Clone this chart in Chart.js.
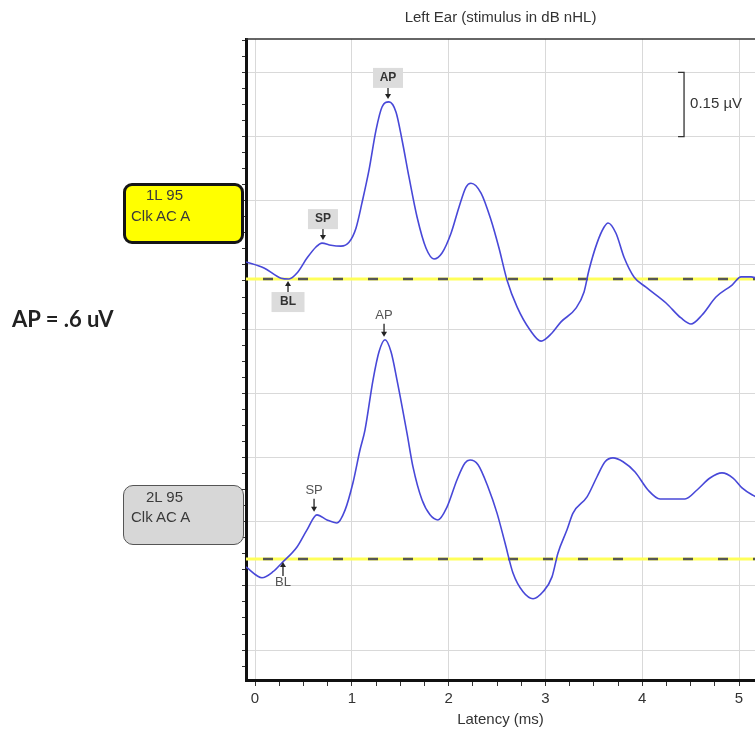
<!DOCTYPE html>
<html>
<head>
<meta charset="utf-8">
<script src="https://cdn.jsdelivr.net/npm/chart.js@4.4.1/dist/chart.umd.min.js"></script>
<style>
html,body{margin:0;padding:0;background:#fff;overflow:hidden;}
#wrap{position:relative;width:755px;height:733px;}
#c{position:absolute;left:0;top:0;}
.box{position:absolute;box-sizing:border-box;}
.lbl{position:absolute;font-family:"Liberation Sans",Arial,sans-serif;font-size:15px;line-height:20px;color:#3a3a3a;white-space:nowrap;}
#ap{position:absolute;left:12px;top:306px;font-family:Lato,"Open Sans",sans-serif;font-weight:700;font-size:22px;line-height:26px;color:#222;white-space:nowrap;}
</style>
</head>
<body>
<div id="wrap">
<canvas id="c" width="755" height="733"></canvas>
<div class="box" style="left:123px;top:183px;width:121px;height:61px;background:#ffff00;border:3px solid #151515;border-radius:9px;"></div>
<div class="lbl" style="left:146px;top:185px;">1L 95</div>
<div class="lbl" style="left:131px;top:206px;">Clk AC A</div>
<div class="box" style="left:123px;top:485px;width:121px;height:60px;background:#d7d7d7;border:1.5px solid #555;border-radius:10px;"></div>
<div class="lbl" style="left:146px;top:487px;">2L 95</div>
<div class="lbl" style="left:131px;top:507px;">Clk AC A</div>
<div id="ap">AP = .6 uV</div>
</div>
<script>
// ---- data (latency in ms, amplitude in µV relative to each trace's baseline) ----
const chartTitle = 'Left Ear (stimulus in dB nHL)';
const xAxisTitle = 'Latency (ms)';
const xTickLabels = ['0', '1', '2', '3', '4', '5'];
const scaleBarLabel = '0.15 µV';
const scaleBarUv = 0.15;

const latencyUpper = [-0.093, 0.093, 0.269, 0.351, 0.434, 0.537, 0.630, 0.692, 0.785, 0.888, 0.971, 1.043, 1.105, 1.178, 1.250, 1.312, 1.384, 1.457, 1.519, 1.591, 1.674, 1.767, 1.849, 1.932, 2.025, 2.107, 2.180, 2.231, 2.335, 2.438, 2.521, 2.603, 2.707, 2.841, 2.955, 3.068, 3.161, 3.316, 3.399, 3.450, 3.533, 3.605, 3.647, 3.729, 3.812, 3.915, 4.039, 4.246, 4.401, 4.504, 4.618, 4.762, 4.928, 5.021, 5.124, 5.217];
const ampUpper = [0.040, 0.026, 0.002, 0.000, 0.014, 0.049, 0.075, 0.084, 0.079, 0.077, 0.086, 0.119, 0.178, 0.255, 0.348, 0.402, 0.414, 0.390, 0.325, 0.238, 0.145, 0.072, 0.047, 0.061, 0.107, 0.168, 0.215, 0.224, 0.201, 0.138, 0.072, -0.002, -0.065, -0.119, -0.145, -0.126, -0.100, -0.068, -0.030, 0.021, 0.084, 0.121, 0.131, 0.107, 0.051, 0.005, -0.019, -0.056, -0.091, -0.105, -0.084, -0.042, -0.014, 0.005, 0.005, 0.000];

const latencyLower = [-0.093, 0.072, 0.186, 0.279, 0.434, 0.537, 0.640, 0.744, 0.847, 0.930, 1.012, 1.085, 1.136, 1.219, 1.281, 1.343, 1.405, 1.467, 1.570, 1.632, 1.725, 1.808, 1.890, 1.983, 2.087, 2.169, 2.221, 2.304, 2.407, 2.500, 2.583, 2.665, 2.769, 2.872, 2.975, 3.068, 3.130, 3.223, 3.285, 3.430, 3.533, 3.616, 3.698, 3.802, 3.926, 4.060, 4.184, 4.442, 4.566, 4.700, 4.824, 4.938, 5.031, 5.134, 5.372];
const ampLower = [-0.019, -0.044, -0.030, -0.009, 0.028, 0.068, 0.103, 0.091, 0.084, 0.114, 0.178, 0.255, 0.301, 0.418, 0.484, 0.512, 0.484, 0.418, 0.294, 0.215, 0.138, 0.103, 0.091, 0.121, 0.185, 0.224, 0.231, 0.220, 0.168, 0.107, 0.037, -0.033, -0.077, -0.093, -0.077, -0.042, 0.014, 0.068, 0.107, 0.145, 0.192, 0.227, 0.236, 0.227, 0.203, 0.161, 0.140, 0.140, 0.161, 0.189, 0.201, 0.189, 0.166, 0.150, 0.126];

const markerNames = ['AP', 'SP', 'BL'];
const markerMsUpper = [1.374, 0.702, 0.341];
const markerUvUpper = [0.414, 0.084, 0.000];
const markerMsLower = [1.333, 0.610, 0.289];
const markerUvLower = [0.512, 0.103, 0.000];

// display offsets of the two stacked traces on the µV axis
const UPPER_BASELINE = 0.867;
const LOWER_BASELINE = 0.213;
const X_MIN = -0.093, X_MAX = 5.165;
const Y_MIN = -0.07, Y_MAX = 1.428;
const SCALE_BAR_MS = 4.432, SCALE_BAR_TOP = 1.35;

const xTicks = []; for (let k = 0; k <= 20; k++) xTicks.push(k * 0.25);
const yTicks = []; for (let k = -1; k <= 38; k++) yTicks.push(k * 0.0375);
const isMult = (v, s) => Math.abs(v / s - Math.round(v / s)) < 1e-6;

const toPts = (xs, ys, off) => xs.map((t, i) => ({x: t, y: ys[i] + off}));

const overlay = {
  id: 'overlay',
  afterDatasetsDraw(chart) {
    const {ctx, chartArea: a, scales: {x, y}} = chart;
    ctx.save();
    // top border
    ctx.strokeStyle = '#333'; ctx.lineWidth = 1.5;
    ctx.beginPath(); ctx.moveTo(a.left, a.top); ctx.lineTo(a.right + 5, a.top); ctx.stroke();
    // scale bar
    const bx = x.getPixelForValue(SCALE_BAR_MS);
    const by0 = y.getPixelForValue(SCALE_BAR_TOP), by1 = y.getPixelForValue(SCALE_BAR_TOP - scaleBarUv);
    ctx.lineWidth = 1.3; ctx.strokeStyle = '#333';
    ctx.beginPath(); ctx.moveTo(bx - 6, by0); ctx.lineTo(bx, by0); ctx.lineTo(bx, by1); ctx.lineTo(bx - 6, by1); ctx.stroke();
    ctx.fillStyle = '#333'; ctx.font = '15px "Liberation Sans", Arial, sans-serif';
    ctx.textAlign = 'left'; ctx.textBaseline = 'middle';
    ctx.fillText(scaleBarLabel, bx + 6, (by0 + by1) / 2 - 1);

    const arrow = (px, tail, tip) => {
      ctx.strokeStyle = '#222'; ctx.fillStyle = '#222'; ctx.lineWidth = 1.3;
      const dir = tip > tail ? 1 : -1;
      ctx.beginPath(); ctx.moveTo(px, tail); ctx.lineTo(px, tip - dir * 4); ctx.stroke();
      ctx.beginPath(); ctx.moveTo(px - 3, tip - dir * 5); ctx.lineTo(px + 3, tip - dir * 5); ctx.lineTo(px, tip); ctx.closePath(); ctx.fill();
    };
    // upper markers (boxed)
    markerNames.forEach((nm, i) => {
      const px = x.getPixelForValue(markerMsUpper[i]);
      const py = y.getPixelForValue(markerUvUpper[i] + UPPER_BASELINE);
      const up = nm === 'BL';
      const tip = up ? py + 2 : py - 3;
      const tail = up ? py + 13 : py - 14;
      arrow(px, tail, tip);
      const w = up ? 33 : 30;
      const top = up ? tail : tail - 20;
      ctx.fillStyle = '#dcdcdc';
      ctx.fillRect(px - w / 2, top, w, 20);
      ctx.fillStyle = '#333'; ctx.font = 'bold 12px "Liberation Sans", Arial, sans-serif';
      ctx.textAlign = 'center'; ctx.textBaseline = 'middle';
      ctx.fillText(nm, px, top + 10);
    });
    // lower markers (plain)
    markerNames.forEach((nm, i) => {
      const px = x.getPixelForValue(markerMsLower[i]);
      const py = y.getPixelForValue(markerUvLower[i] + LOWER_BASELINE);
      const up = nm === 'BL';
      const tip = up ? py + 3 : py - 3;
      const tail = up ? py + 17 : py - 16;
      arrow(px, tail, tip);
      ctx.fillStyle = '#555'; ctx.font = '13px "Liberation Sans", Arial, sans-serif';
      ctx.textAlign = 'center'; ctx.textBaseline = 'middle';
      ctx.fillText(nm, px, up ? tail + 7 : tail - 8);
    });
    ctx.restore();
  }
};

const baseline = (off, ord) => [
  {data: [{x: X_MIN, y: off}, {x: X_MAX, y: off}], borderColor: '#ffff5a', borderWidth: 3, pointRadius: 0, order: ord + 1},
  {data: [{x: X_MIN, y: off}, {x: X_MAX, y: off}], borderColor: '#555', borderWidth: 2.5, borderDash: [10, 25], borderDashOffset: 18, pointRadius: 0, order: ord}
];

new Chart(document.getElementById('c'), {
  type: 'line',
  data: {
    datasets: [
      {data: toPts(latencyUpper, ampUpper, UPPER_BASELINE), borderColor: '#4848d8', borderWidth: 1.6, pointRadius: 0, cubicInterpolationMode: 'monotone', order: 1},
      {data: toPts(latencyLower, ampLower, LOWER_BASELINE), borderColor: '#4848d8', borderWidth: 1.6, pointRadius: 0, cubicInterpolationMode: 'monotone', order: 2},
      ...baseline(UPPER_BASELINE, 10),
      ...baseline(LOWER_BASELINE, 20)
    ]
  },
  options: {
    responsive: false,
    animation: false,
    events: [],
    layout: {padding: {left: 236, right: 0, top: 0, bottom: 0}},
    plugins: {
      legend: {display: false},
      tooltip: {enabled: false},
      title: {display: true, text: chartTitle, fullSize: false, color: '#333',
        font: {family: '"Liberation Sans", Arial, sans-serif', size: 15, weight: 'normal'},
        padding: {top: 9, bottom: 12}}
    },
    scales: {
      x: {
        type: 'linear', min: X_MIN, max: X_MAX,
        afterBuildTicks: ax => { ax.ticks = xTicks.map(v => ({value: v})); },
        afterFit: ax => { ax.height = 53; },
        ticks: {
          autoSkip: false, maxRotation: 0, minRotation: 0, padding: 4, color: '#333',
          font: {family: '"Liberation Sans", Arial, sans-serif', size: 15},
          callback: v => isMult(v, 1) ? xTickLabels[Math.round(v)] : ''
        },
        grid: {
          color: c => (c.tick && isMult(c.tick.value, 1)) ? '#d9d9d9' : 'rgba(0,0,0,0)',
          tickColor: '#333', tickLength: 6, lineWidth: 1
        },
        border: {display: true, color: '#111', width: 3},
        title: {display: true, text: xAxisTitle, color: '#333',
          font: {family: '"Liberation Sans", Arial, sans-serif', size: 15},
          padding: {top: 0, bottom: 4}}
      },
      y: {
        type: 'linear', min: Y_MIN, max: Y_MAX,
        afterBuildTicks: ax => { ax.ticks = yTicks.map(v => ({value: v})); },
        afterFit: ax => { ax.width = 10; },
        ticks: {display: false},
        grid: {
          color: c => (c.tick && isMult(c.tick.value, 0.15)) ? '#d9d9d9' : 'rgba(0,0,0,0)',
          tickColor: '#333', tickLength: 4, lineWidth: 1
        },
        border: {display: true, color: '#111', width: 3}
      }
    }
  },
  plugins: [overlay]
});
</script>
</body>
</html>
